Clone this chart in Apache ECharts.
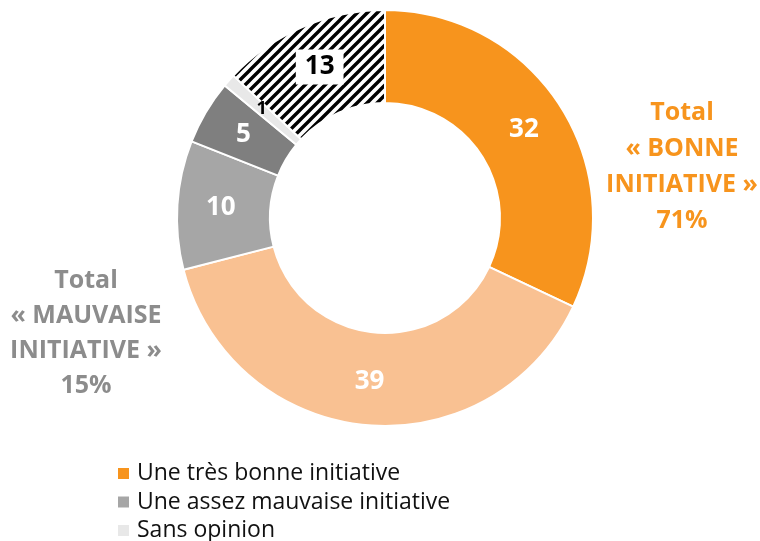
<!DOCTYPE html>
<html>
<head>
<meta charset="utf-8">
<script src="https://cdn.jsdelivr.net/npm/echarts@6/dist/echarts.min.js"></script>
<style>
  html, body { margin: 0; padding: 0; background: #fff; }
  #chart { width: 760px; height: 541px; }
</style>
</head>
<body>
<div id="chart"></div>
<script>
// categories and values, clockwise from the top
var categories = ['Une très bonne initiative', 'Une assez bonne initiative', 'Une assez mauvaise initiative',
                  'Une très mauvaise initiative', 'Sans opinion', 'Ne connaît pas'];
var values = [32, 39, 10, 5, 1, 13];
var colors = ['#F7941D', '#F9C192', '#A6A6A6', '#7F7F7F', '#E8E8E8', null];
var legendItems = ['Une très bonne initiative', 'Une assez mauvaise initiative', 'Sans opinion'];
var totalBonne = ['Total', '« BONNE', 'INITIATIVE »', '71%'];
var totalMauvaise = ['Total', '« MAUVAISE', 'INITIATIVE »', '15%'];

// hatch pattern for the last slice
function hatch() {
  var c = document.createElement('canvas');
  c.width = 10; c.height = 10;
  var g = c.getContext('2d');
  g.fillStyle = '#fff';
  g.fillRect(0, 0, 10, 10);
  g.strokeStyle = '#000';
  g.lineWidth = 3.4;
  g.beginPath();
  g.moveTo(-2, 12); g.lineTo(12, -2);
  g.moveTo(-7, 7); g.lineTo(7, -7);
  g.moveTo(3, 17); g.lineTo(17, 3);
  g.stroke();
  return c;
}

var myChart = echarts.init(document.getElementById('chart'));

var data = values.map(function (v, i) {
  var item = { name: categories[i], value: v, itemStyle: {} };
  if (colors[i]) {
    item.itemStyle.color = colors[i];
  } else {
    item.itemStyle.color = { image: hatch(), repeat: 'repeat' };
  }
  if (i === 4) {
    item.label = { color: '#000', fontSize: 18 };
  }
  if (i === 5) {
    item.label = { color: '#000', backgroundColor: '#fff', padding: [6, 9, 3, 9] };
  }
  return item;
});

// one text element per line, centred on a column
function textBlock(lines, cx, y0, step, color) {
  return lines.map(function (t, i) {
    return {
      type: 'text',
      x: cx,
      y: y0 + i * step,
      style: {
        text: t, fill: color, align: 'center', verticalAlign: 'middle',
        font: 'bold 25px "Open Sans"'
      }
    };
  });
}

var option = {
  animation: false,
  legend: {
    data: legendItems,
    orient: 'vertical',
    left: 116,
    top: 462,
    height: 120,
    padding: 0,
    icon: 'rect',
    itemWidth: 13,
    itemHeight: 13,
    itemGap: 5.5,
    textStyle: { fontFamily: 'Open Sans', fontSize: 23, lineHeight: 23, color: '#111', padding: [0, 0, 0, 2] },
    selectedMode: false
  },
  graphic: textBlock(totalBonne, 682, 113, 36, '#F7941D')
    .concat(textBlock(totalMauvaise, 86, 281, 35, '#8C8C8C')),
  series: [{
    type: 'pie',
    center: [385, 218],
    radius: [115, 208],
    startAngle: 90,
    clockwise: true,
    avoidLabelOverlap: false,
    itemStyle: { borderColor: '#fff', borderWidth: 2 },
    label: {
      show: true,
      position: 'inside',
      formatter: '{c}',
      color: '#fff',
      fontFamily: 'Open Sans',
      fontWeight: 'bold',
      fontSize: 26
    },
    labelLine: { show: false },
    emphasis: { disabled: true },
    data: data
  }]
};

myChart.setOption(option);
</script>
</body>
</html>
